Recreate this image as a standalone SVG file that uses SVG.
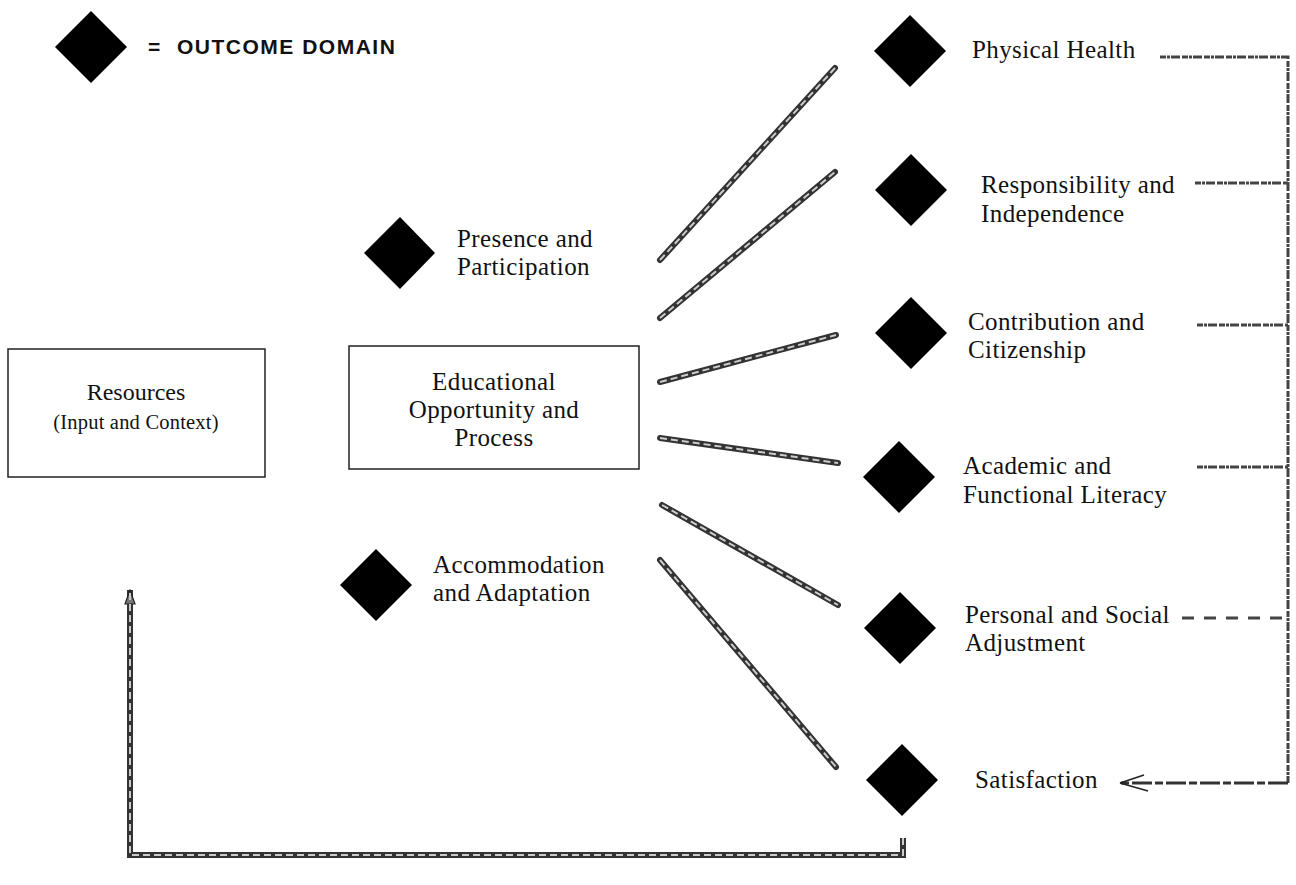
<svg xmlns="http://www.w3.org/2000/svg" width="1296" height="885" viewBox="0 0 1296 885">
<style>
.lbl{font-family:"Liberation Serif","Times New Roman",serif;font-size:25px;letter-spacing:0.4px;fill:#111}
.box{fill:#fff;stroke:#222;stroke-width:1.5}
.dia{fill:#000}
.bar{fill:none;stroke:#333;stroke-width:6;stroke-linecap:round}
.barin{fill:none;stroke:#ccc;stroke-width:2;stroke-dasharray:7 4}
.fb{fill:none;stroke:#444;stroke-width:3;stroke-dasharray:6 1 3 1 9 2}
</style>
<defs>
<marker id="open" markerWidth="32" markerHeight="20" refX="30" refY="10" orient="auto" markerUnits="userSpaceOnUse">
<path d="M2,2 L30,10 M6,18 L30,10" fill="none" stroke="#222" stroke-width="1.6"/>
</marker>
<marker id="up" markerWidth="12" markerHeight="16" refX="6" refY="1" orient="0" markerUnits="userSpaceOnUse">
<path d="M1,15 L6,1 L11,15 Z" fill="#777" stroke="#222" stroke-width="1.2"/>
</marker>
</defs>
<rect width="1296" height="885" fill="#fff"/>

<g id="legend">
<path class="dia" d="M91,11 L127,47 L91,83 L55,47 Z"/>
<text x="148" y="54" font-family="Liberation Sans,Arial,sans-serif" font-weight="bold" font-size="21" fill="#111">=</text>
<text x="177" y="54" font-family="Liberation Sans,Arial,sans-serif" font-weight="bold" font-size="21" letter-spacing="1.5" fill="#111">OUTCOME DOMAIN</text>
</g>

<g id="connectors">
<g id="spokes">
<path class="bar" d="M660,260 L835,68"/><path class="barin" d="M660,260 L835,68"/>
<path class="bar" d="M660,318 L835,172"/><path class="barin" d="M660,318 L835,172"/>
<path class="bar" d="M660,382 L836,335"/><path class="barin" d="M660,382 L836,335"/>
<path class="bar" d="M660,438 L838,463"/><path class="barin" d="M660,438 L838,463"/>
<path class="bar" d="M662,505 L838,605"/><path class="barin" d="M662,505 L838,605"/>
<path class="bar" d="M660,560 L836,767"/><path class="barin" d="M660,560 L836,767"/>
</g>
<g id="feedback-right">
<path class="fb" d="M1160,57 L1288,57 L1288,783"/>
<path class="fb" d="M1195,183 L1288,183"/>
<path class="fb" d="M1197,325 L1288,325"/>
<path class="fb" d="M1197,467 L1288,467"/>
<path class="fb" d="M1182,618 L1288,618" style="stroke-dasharray:12 10"/>
<path d="M1288,783 L1120,783" fill="none" stroke="#333" stroke-width="3" stroke-dasharray="20 3 8 3" marker-end="url(#open)"/>
</g>
<g id="feedback-bottom">
<path class="bar" d="M903,838 L903,855 L130,855 L130,590" style="stroke-linecap:butt" marker-end="url(#up)"/>
<path class="barin" d="M903,838 L903,855 L130,855 L130,592"/>
</g>
</g>

<g id="resources">
<rect class="box" x="8" y="349" width="257" height="128"/>
<text class="lbl" x="136" y="400" text-anchor="middle" style="font-size:24px;letter-spacing:0px">Resources</text>
<text class="lbl" x="136" y="429" text-anchor="middle" style="font-size:20.5px;letter-spacing:0.2px">(Input and Context)</text>
</g>

<g id="educational">
<rect class="box" x="349" y="346" width="290" height="123"/>
<text class="lbl" x="494" y="390" text-anchor="middle">Educational</text>
<text class="lbl" x="494" y="418" text-anchor="middle">Opportunity and</text>
<text class="lbl" x="494" y="446" text-anchor="middle">Process</text>
</g>

<g id="presence">
<path class="dia" d="M400,217 L435,253 L400,289 L364,253 Z"/>
<text class="lbl" x="457" y="247">Presence and</text>
<text class="lbl" x="457" y="275">Participation</text>
</g>

<g id="accommodation">
<path class="dia" d="M376,549 L412,585 L376,621 L340,585 Z"/>
<text class="lbl" x="433" y="573">Accommodation</text>
<text class="lbl" x="433" y="601">and Adaptation</text>
</g>

<g id="physical-health">
<path class="dia" d="M910,15 L946,51 L910,87 L874,51 Z"/>
<text class="lbl" x="972" y="58">Physical Health</text>
</g>

<g id="responsibility">
<path class="dia" d="M911,154 L947,190 L911,226 L875,190 Z"/>
<text class="lbl" x="981" y="193">Responsibility and</text>
<text class="lbl" x="981" y="222">Independence</text>
</g>

<g id="contribution">
<path class="dia" d="M911,297 L947,333 L911,369 L875,333 Z"/>
<text class="lbl" x="968" y="330">Contribution and</text>
<text class="lbl" x="968" y="358">Citizenship</text>
</g>

<g id="academic">
<path class="dia" d="M899,441 L935,477 L899,513 L863,477 Z"/>
<text class="lbl" x="963" y="474">Academic and</text>
<text class="lbl" x="963" y="503">Functional Literacy</text>
</g>

<g id="personal">
<path class="dia" d="M900,592 L936,628 L900,664 L864,628 Z"/>
<text class="lbl" x="965" y="623">Personal and Social</text>
<text class="lbl" x="965" y="651">Adjustment</text>
</g>

<g id="satisfaction">
<path class="dia" d="M902,744 L938,780 L902,816 L866,780 Z"/>
<text class="lbl" x="975" y="788">Satisfaction</text>
</g>
</svg>
